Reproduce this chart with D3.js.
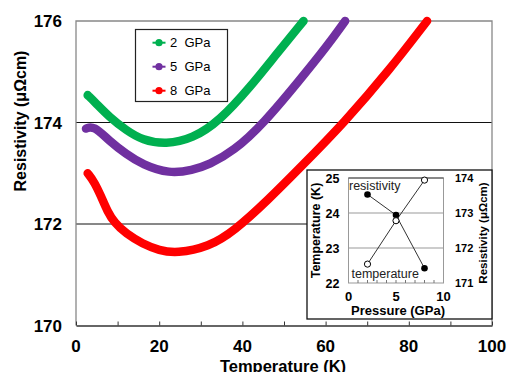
<!DOCTYPE html>
<html>
<head>
<meta charset="utf-8">
<style>
  body { margin: 0; background: #fff; }
  svg { font-family: "Liberation Sans", Arial, sans-serif; }
</style>
</head>
<body>
<svg width="508" height="372"></svg>
<script src="https://d3js.org/d3.v7.min.js"></script>
<script>

// main curves: temperature (K) and resistivity (µΩcm)
var t2 = [2.8, 4.8, 8, 12, 16, 21.6, 28, 34.5, 41.9, 48.3, 54.7];
var r2 = [174.54, 174.38, 174.11, 173.85, 173.65, 173.57, 173.68, 174.03, 174.70, 175.36, 176.0];

var t5 = [2.4, 4.2, 8, 12, 16, 22.4, 28, 32, 37.8, 45.1, 53.9, 60.3, 64.7];
var r5 = [173.88, 173.94, 173.64, 173.38, 173.17, 172.99, 173.06, 173.17, 173.43, 173.98, 174.85, 175.5, 176.0];

var t8 = [2.8, 4.4, 6.0, 7.6, 9.2, 12, 16, 20, 24.1, 32, 38, 46, 54, 64.5, 75.5, 84.4];
var r8 = [173.0, 172.83, 172.55, 172.24, 172.03, 171.81, 171.61, 171.48, 171.42, 171.55, 171.86, 172.46, 173.12, 174.0, 175.05, 176.0];

var seriesNames = ["2  GPa", "5  GPa", "8  GPa"];
var seriesColors = ["#00b050", "#7030a0", "#ff0000"];

var xTicks = [0, 20, 40, 60, 80, 100];
var yTicks = [170, 172, 174, 176];

// inset: minimum temperature and minimum resistivity vs pressure
var pressure = [2, 5, 8];
var tMin = [22.54, 23.78, 24.94];
var rhoMin = [173.53, 172.94, 171.42];

var svg = d3.select("svg");

var x = d3.scaleLinear().domain([0, 100]).range([76, 492]);
var y = d3.scaleLinear().domain([170, 176]).range([325.5, 21]);

// grid lines
svg.selectAll(".grid")
  .data([172, 174])
  .enter().append("line")
    .attr("x1", x(0)).attr("x2", x(100))
    .attr("y1", function(d) { return y(d); })
    .attr("y2", function(d) { return y(d); })
    .attr("stroke", "#111").attr("stroke-width", 1);

// plot frame
svg.append("path")
    .attr("d", "M" + x(0) + "," + y(170) + "V" + y(176) + "H" + x(100) + "V" + y(170))
    .attr("fill", "none").attr("stroke", "#888").attr("stroke-width", 1.3);

// x axis with inner ticks
var xAxis = svg.append("g")
    .attr("transform", "translate(0," + y(170) + ")")
    .call(d3.axisBottom(x).tickValues(d3.range(0, 101, 10)).tickSizeInner(-4).tickSizeOuter(0).tickFormat(""));
xAxis.select(".domain").attr("stroke", "#333").attr("stroke-width", 1.3);
xAxis.selectAll(".tick line").attr("stroke", "#333");

svg.selectAll(".xl")
  .data(xTicks)
  .enter().append("text")
    .attr("x", function(d) { return x(d); })
    .attr("y", 352)
    .attr("text-anchor", "middle")
    .attr("font-size", 17).attr("font-weight", "bold")
    .text(function(d) { return d; });

svg.selectAll(".yl")
  .data(yTicks)
  .enter().append("text")
    .attr("x", 62)
    .attr("y", function(d) { return y(d) + 6; })
    .attr("text-anchor", "end")
    .attr("font-size", 17).attr("font-weight", "bold")
    .text(function(d) { return d; });

svg.append("text")
    .attr("x", 283).attr("y", 371.5)
    .attr("text-anchor", "middle")
    .attr("font-size", 16.5).attr("font-weight", "bold")
    .text("Temperature (K)");

svg.append("text")
    .attr("transform", "translate(26,121) rotate(-90)")
    .attr("text-anchor", "middle")
    .attr("font-size", 16).attr("font-weight", "bold")
    .text("Resistivity (μΩcm)");

// curves
var curves = [[t2, r2], [t5, r5], [t8, r8]];
var line = d3.line()
    .x(function(d) { return x(d[0]); })
    .y(function(d) { return y(d[1]); })
    .curve(d3.curveBasis);

curves.forEach(function(c, i) {
  var pts = c[0].map(function(t, j) { return [t, c[1][j]]; });
  svg.append("path")
      .datum(pts)
      .attr("d", line)
      .attr("fill", "none")
      .attr("stroke", seriesColors[i])
      .attr("stroke-width", 8.5)
      .attr("stroke-linecap", "round")
      .attr("stroke-linejoin", "round");
});

// legend
var legend = svg.append("g");
legend.append("rect")
    .attr("x", 135.5).attr("y", 29.5).attr("width", 92).attr("height", 72)
    .attr("fill", "#fff").attr("stroke", "#222").attr("stroke-width", 1.2);
var item = legend.selectAll(".item")
  .data(seriesNames)
  .enter().append("g")
    .attr("transform", function(d, i) { return "translate(0," + (42.7 + i * 24) + ")"; });
item.append("line")
    .attr("x1", 152.5).attr("x2", 165.5)
    .attr("stroke", function(d, i) { return seriesColors[i]; })
    .attr("stroke-width", 2);
item.append("circle")
    .attr("cx", 159).attr("r", 3.6)
    .attr("fill", function(d, i) { return seriesColors[i]; });
item.append("text")
    .attr("x", 170).attr("y", 4.6)
    .attr("font-size", 13)
    .attr("xml:space", "preserve")
    .style("white-space", "pre")
    .text(function(d) { return d; });

// inset
var inset = svg.append("g");
inset.append("rect")
    .attr("x", 307).attr("y", 170).attr("width", 185).attr("height", 149)
    .attr("fill", "#fff").attr("stroke", "#111").attr("stroke-width", 1.3);

var px = d3.scaleLinear().domain([0, 10]).range([348.5, 443.5]);
var py = d3.scaleLinear().domain([22, 25]).range([283, 178]);
var pr = d3.scaleLinear().domain([171, 174]).range([283, 178]);

inset.selectAll(".igrid")
  .data([23, 24])
  .enter().append("line")
    .attr("x1", px(0)).attr("x2", px(10))
    .attr("y1", function(d) { return py(d); })
    .attr("y2", function(d) { return py(d); })
    .attr("stroke", "#999").attr("stroke-width", 1);

inset.append("rect")
    .attr("x", px(0)).attr("y", py(25))
    .attr("width", px(10) - px(0)).attr("height", py(22) - py(25))
    .attr("fill", "none").attr("stroke", "#999").attr("stroke-width", 1);
inset.append("line")
    .attr("x1", px(0)).attr("x2", px(10)).attr("y1", py(25)).attr("y2", py(25))
    .attr("stroke", "#444").attr("stroke-width", 1.2);

inset.selectAll(".itick")
  .data(d3.range(1, 10))
  .enter().append("line")
    .attr("x1", function(d) { return px(d); })
    .attr("x2", function(d) { return px(d); })
    .attr("y1", py(22)).attr("y2", py(22) - 3)
    .attr("stroke", "#777");

inset.selectAll(".ixl")
  .data([0, 5, 10])
  .enter().append("text")
    .attr("x", function(d) { return px(d); })
    .attr("y", 300.5)
    .attr("text-anchor", "middle")
    .attr("font-size", 13).attr("font-weight", "bold")
    .text(function(d) { return d; });

inset.selectAll(".iyl")
  .data([22, 23, 24, 25])
  .enter().append("text")
    .attr("x", 339.5)
    .attr("y", function(d) { return py(d) + 4.5; })
    .attr("text-anchor", "end")
    .attr("font-size", 12.5).attr("font-weight", "bold")
    .text(function(d) { return d; });

inset.selectAll(".iyr")
  .data([171, 172, 173, 174])
  .enter().append("text")
    .attr("x", 455)
    .attr("y", function(d) { return pr(d) + 4; })
    .attr("font-size", 11).attr("font-weight", "bold")
    .text(function(d) { return d; });

inset.append("text")
    .attr("x", 398).attr("y", 315)
    .attr("text-anchor", "middle")
    .attr("font-size", 13).attr("font-weight", "bold")
    .text("Pressure (GPa)");

inset.append("text")
    .attr("transform", "translate(319.5,230.5) rotate(-90)")
    .attr("text-anchor", "middle")
    .attr("font-size", 12.5).attr("font-weight", "bold")
    .text("Temperature (K)");

inset.append("text")
    .attr("transform", "translate(486.5,233) rotate(-90)")
    .attr("text-anchor", "middle")
    .attr("font-size", 11.5).attr("font-weight", "bold")
    .text("Resistivity (μΩcm)");

var lineT = d3.line()
    .x(function(d, i) { return px(pressure[i]); })
    .y(function(d) { return py(d); });
var lineR = d3.line()
    .x(function(d, i) { return px(pressure[i]); })
    .y(function(d) { return pr(d); });

inset.append("path").datum(tMin).attr("d", lineT)
    .attr("fill", "none").attr("stroke", "#333").attr("stroke-width", 1);
inset.append("path").datum(rhoMin).attr("d", lineR)
    .attr("fill", "none").attr("stroke", "#333").attr("stroke-width", 1);

inset.selectAll(".pr")
  .data(rhoMin)
  .enter().append("circle")
    .attr("cx", function(d, i) { return px(pressure[i]); })
    .attr("cy", function(d) { return pr(d); })
    .attr("r", 3.3)
    .attr("fill", "#000");

inset.selectAll(".pt")
  .data(tMin)
  .enter().append("circle")
    .attr("cx", function(d, i) { return px(pressure[i]); })
    .attr("cy", function(d) { return py(d); })
    .attr("r", 3.1)
    .attr("fill", "#fff").attr("stroke", "#000").attr("stroke-width", 1);

inset.append("text")
    .attr("x", 349).attr("y", 189.5)
    .attr("font-size", 12.5).attr("fill", "#222")
    .text("resistivity");

inset.append("text")
    .attr("x", 351.5).attr("y", 277.5)
    .attr("font-size", 12.5).attr("fill", "#222")
    .text("temperature");

</script>
</body>
</html>
